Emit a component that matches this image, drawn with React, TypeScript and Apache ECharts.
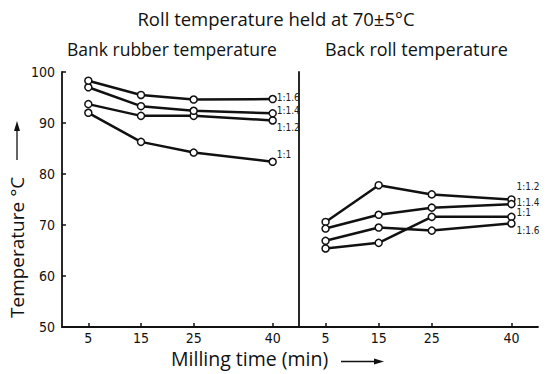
import React, { useEffect, useRef } from "react";
import * as echarts from "echarts";

const times = [5, 15, 25, 40];
const yTicks = [50, 60, 70, 80, 90, 100];
const ratioNames = ["1:1", "1:1.2", "1:1.4", "1:1.6"];

// Bank rubber temperature (left panel)
const bank11 = [92.0, 86.3, 84.2, 82.4];
const bank112 = [93.7, 91.4, 91.4, 90.5];
const bank114 = [97.0, 93.3, 92.4, 91.9];
const bank116 = [98.3, 95.5, 94.6, 94.7];

// Back roll temperature (right panel)
const back11 = [65.4, 66.5, 71.6, 71.6];
const back112 = [70.6, 77.8, 76.0, 75.0];
const back114 = [69.3, 72.0, 73.4, 74.1];
const back116 = [66.9, 69.5, 68.9, 70.3];

const bankSeries = [bank11, bank112, bank114, bank116];
const backSeries = [back11, back112, back114, back116];
const bankLabelOffsets = [[2, -7], [2, 7], [2, -3], [2, -2]];
const backLabelOffsets = [[3, -4], [3, -13], [3, -2], [3, 7]];

const tickFont = "'Liberation Sans Narrow', 'DejaVu Sans Condensed', 'Open Sans', sans-serif";
const textFont = "'Open Sans', 'DejaVu Sans', sans-serif";

export default function App() {
  const ref = useRef<HTMLDivElement>(null);
  useEffect(() => {
    if (!ref.current) return;
    const chart = echarts.init(ref.current, undefined, { renderer: "svg" });

    const xAxisBase = (gridIndex: number) => ({
      type: "value",
      gridIndex,
      min: 0,
      max: 45,
      axisLine: { show: true, lineStyle: { color: "#111", width: 1.8 } },
      axisTick: {
        show: true,
        inside: true,
        length: 4,
        customValues: times,
        lineStyle: { color: "#111", width: 1.5 },
      },
      axisLabel: {
        show: true,
        customValues: times,
        color: "#111",
        fontSize: 14,
        fontFamily: tickFont,
        margin: 4,
      },
      splitLine: { show: false },
    });

    const makeSeries = (
      data: number[][],
      offsets: number[][],
      idx: number
    ) =>
      data.map((vals, i) => ({
        type: "line",
        name: ratioNames[i],
        xAxisIndex: idx,
        yAxisIndex: idx,
        data: vals.map((v, j) => [times[j], v]),
        symbol: "circle",
        symbolSize: 7,
        itemStyle: { color: "#fff", borderColor: "#111", borderWidth: 1.5 },
        lineStyle: { color: "#111", width: 2.5 },
        z: 3,
        endLabel: {
          show: true,
          formatter: ratioNames[i],
          offset: offsets[i],
          color: "#222",
          fontSize: 10,
          fontFamily: tickFont,
          distance: 2,
        },
      }));

    chart.setOption({
      animation: false,
      backgroundColor: "#fff",
      grid: [
        { left: 62, top: 72, width: 237, height: 255 },
        { left: 299, top: 72, width: 239, height: 255 },
      ],
      xAxis: [xAxisBase(0), xAxisBase(1)],
      yAxis: [
        {
          type: "value",
          gridIndex: 0,
          min: 50,
          max: 100,
          interval: 10,
          axisLine: { show: true, lineStyle: { color: "#111", width: 1.8 } },
          axisTick: { show: true, inside: true, length: 4, lineStyle: { color: "#111", width: 1.5 } },
          axisLabel: {
            color: "#111",
            fontSize: 14,
            fontFamily: tickFont,
            margin: 7,
            customValues: yTicks,
          },
          splitLine: { show: false },
        },
        {
          type: "value",
          gridIndex: 1,
          min: 50,
          max: 100,
          interval: 10,
          axisLine: { show: true, lineStyle: { color: "#111", width: 1.8 } },
          axisTick: { show: false },
          axisLabel: { show: false },
          splitLine: { show: false },
        },
      ],
      series: [
        ...makeSeries(bankSeries, bankLabelOffsets, 0),
        ...makeSeries(backSeries, backLabelOffsets, 1),
      ],
      graphic: [
        {
          type: "text",
          x: 276,
          y: 9,
          style: {
            text: "Roll temperature held at 70±5°C",
            fontSize: 18.5,
            fontFamily: textFont,
            fill: "#111",
            align: "center",
          },
        },
        {
          type: "text",
          x: 67,
          y: 40,
          style: {
            text: "Bank rubber temperature",
            fontSize: 17.5,
            fontFamily: textFont,
            fill: "#111",
          },
        },
        {
          type: "text",
          x: 325,
          y: 40,
          style: {
            text: "Back roll temperature",
            fontSize: 18,
            fontFamily: textFont,
            fill: "#111",
          },
        },
        {
          type: "text",
          x: 171,
          y: 348,
          style: {
            text: "Milling time (min)",
            fontSize: 19.5,
            fontFamily: textFont,
            fill: "#111",
          },
        },
        {
          type: "line",
          shape: { x1: 341, y1: 361.5, x2: 378, y2: 361.5 },
          style: { stroke: "#111", lineWidth: 1.3 },
        },
        {
          type: "polygon",
          shape: { points: [[384, 361.5], [374, 358.5], [374, 364.5]] },
          style: { fill: "#111" },
        },
        {
          type: "text",
          x: 7,
          y: 318,
          rotation: Math.PI / 2,
          style: {
            text: "Temperature °C",
            fontSize: 19,
            fontFamily: textFont,
            fill: "#111",
          },
        },
        {
          type: "line",
          shape: { x1: 17, y1: 160, x2: 17, y2: 128 },
          style: { stroke: "#111", lineWidth: 1.3 },
        },
        {
          type: "polygon",
          shape: { points: [[17, 121], [14, 131], [20, 131]] },
          style: { fill: "#111" },
        },
      ],
    });
    return () => chart.dispose();
  }, []);
  return (
    <div
      ref={ref}
      style={{ position: "fixed", left: 0, top: 0, width: 548, height: 374, background: "#fff" }}
    />
  );
}
